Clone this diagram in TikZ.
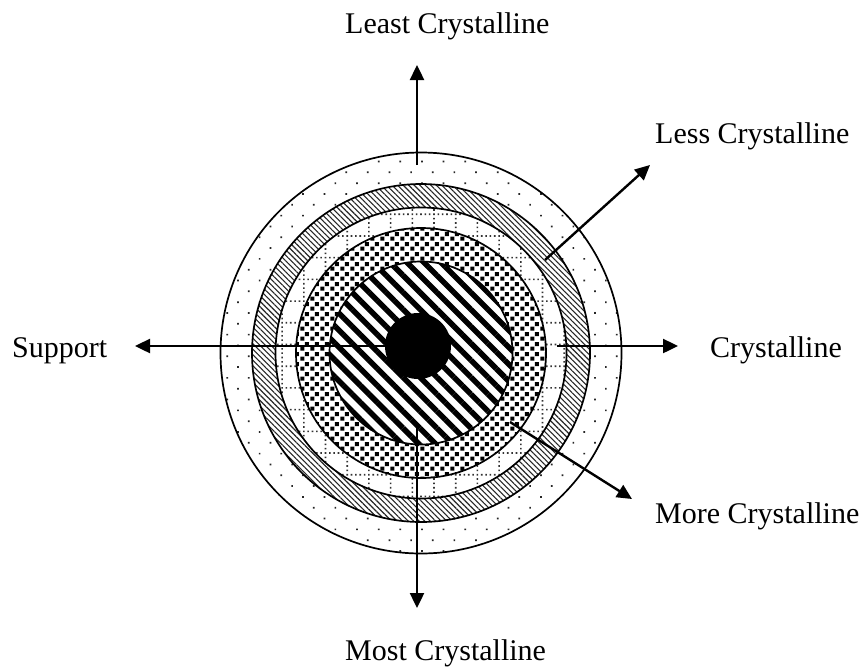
\documentclass[tikz,border=0pt]{standalone}
\usepackage{fontspec}
\setmainfont{Liberation Serif}
\usetikzlibrary{arrows.meta,patterns.meta}

\pgfdeclarepattern{
  name=dotgrid,
  type=uncolored,
  bottom left={\pgfpoint{-1pt}{-1pt}},
  top right={\pgfpoint{20.7pt}{20.7pt}},
  tile size={\pgfpoint{21.7pt}{21.7pt}},
  code={
    \foreach \i in {0,...,4} {
      \pgfpathrectangle{\pgfpoint{\i*4.34pt-0.8pt}{-0.8pt}}{\pgfpoint{1.6pt}{1.6pt}}
      \pgfpathrectangle{\pgfpoint{-0.8pt}{\i*4.34pt-0.8pt}}{\pgfpoint{1.6pt}{1.6pt}}
    }
    \pgfusepath{fill}
  }
}

\pgfdeclarepattern{
  name=checks,
  type=uncolored,
  bottom left={\pgfpoint{0pt}{0pt}},
  top right={\pgfpoint{10pt}{10pt}},
  tile size={\pgfpoint{10pt}{10pt}},
  code={
    \pgfpathrectangle{\pgfpoint{0.4pt}{0.4pt}}{\pgfpoint{4.4pt}{4.4pt}}
    \pgfpathrectangle{\pgfpoint{5.4pt}{5.4pt}}{\pgfpoint{4.4pt}{4.4pt}}
    \pgfusepath{fill}
  }
}

\begin{document}
\begin{tikzpicture}[x=1pt,y=-1pt,
  ring/.style={draw=black, line width=1.7pt},
  arr/.style={line width=2.4pt, -{Triangle[length=15pt,width=14pt]}},
  lbl/.style={anchor=base west, inner sep=0pt, font=\fontsize{30}{36}\selectfont}]
\useasboundingbox (0,0) rectangle (864,670);
\coordinate (C) at (421,353);
% bands
\fill[white] (C) circle (200.5pt);
\fill[pattern={Dots[distance=15.3pt, radius=1.2pt, angle=45]}, pattern color=black!85] (C) circle (200.5pt);
\fill[white] (C) circle (169pt);
\fill[pattern={Lines[angle=-45, distance=3.9pt, line width=1.1pt]}, pattern color=black!85] (C) circle (169pt);
\fill[white] (C) circle (145.5pt);
\fill[pattern=dotgrid, pattern color=black!80] (C) circle (145.5pt);
\fill[white] (C) circle (125pt);
\fill[pattern=checks] (C) circle (125pt);
\fill[white] (C) circle (91.5pt);
\fill[pattern={Lines[angle=-45, distance=12pt, line width=5.5pt]}] (C) circle (91.5pt);
\foreach \r in {200.5,169,145.5,125,91.5} \draw[ring] (C) circle (\r pt);
\node[circle, fill=black, minimum size=66pt, inner sep=0pt] (core) at (418,346) {};
% labels
\node[lbl] (least) at (345,33) {Least Crystalline};
\node[lbl] (less) at (655,143) {Less Crystalline};
\node[lbl] (cryst) at (710,357) {Crystalline};
\node[lbl] (supp) at (12,357) {Support};
\node[lbl] (more) at (655,523) {More Crystalline};
\node[lbl] (most) at (345,660) {Most Crystalline};
% arrow end points
\coordinate (upS) at (417,165);
\coordinate (upT) at (417,65);
\coordinate (dnS) at (417,423);
\coordinate (dnT) at (417,608);
\coordinate (lfT) at (135,346);
\coordinate (rtS) at (556.7,346);
\coordinate (rtT) at (678,346);
\coordinate (lsS) at (545,260);
\coordinate (lsT) at (650,165);
\coordinate (mrS) at (510,422);
\coordinate (mrT) at (632,499);
\draw[arr] (upS) -- (upT);
\draw[arr] (dnS) -- (dnT);
\draw[arr] (core) -- (lfT);
\draw[arr] (rtS) -- (rtT);
\draw[arr] (lsS) -- (lsT);
\draw[arr] (mrS) -- (mrT);
\end{tikzpicture}
\end{document}
